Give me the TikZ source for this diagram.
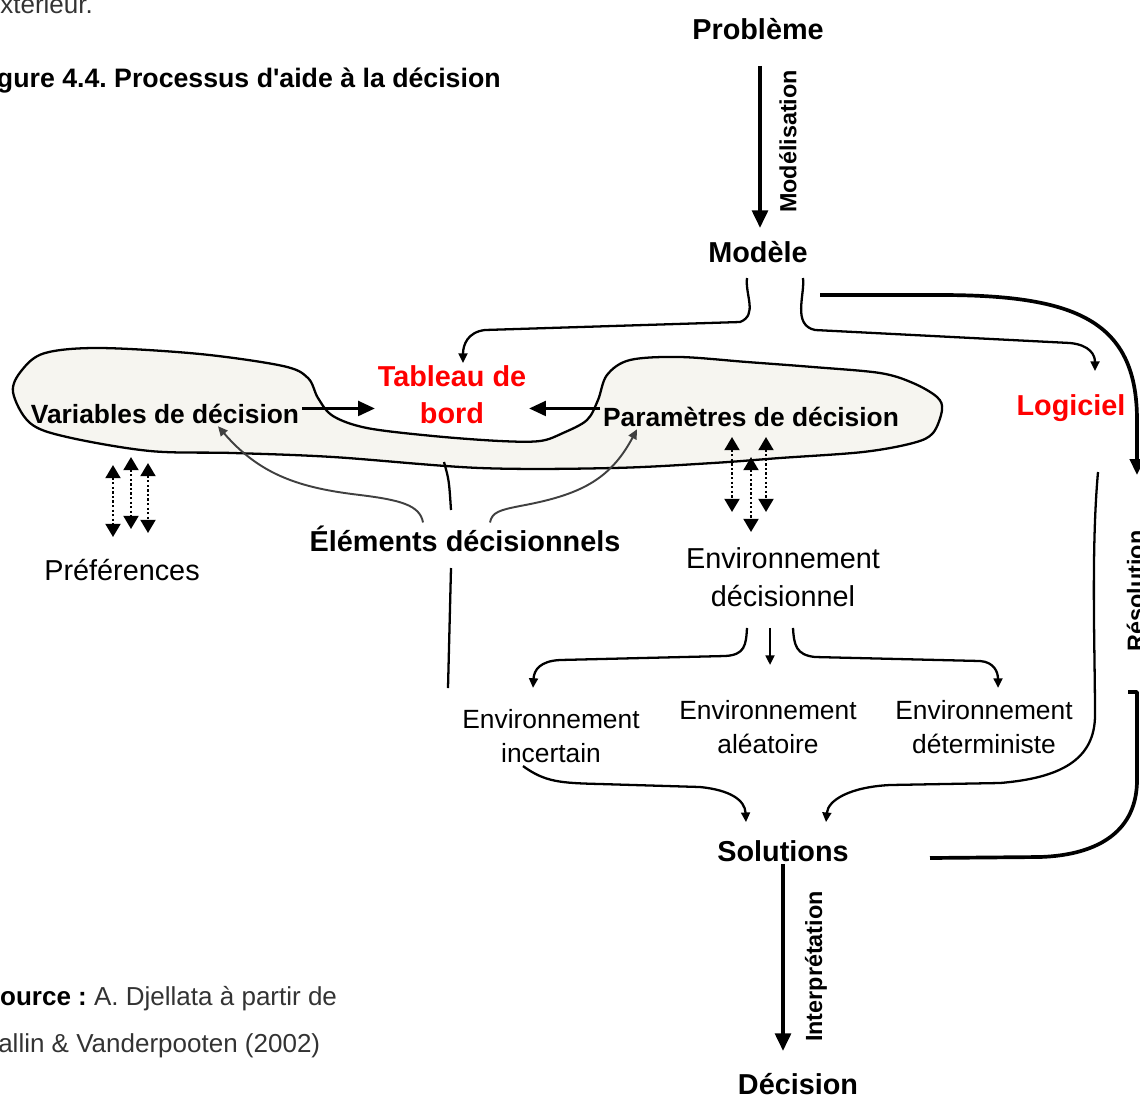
\documentclass[tikz,border=0pt]{standalone}
\usepackage{fontspec}
\setmainfont{Liberation Sans}
\usepackage{xcolor}
\usepackage{tikz}
\usetikzlibrary{arrows.meta}
\usetikzlibrary{positioning}

\definecolor{blobfill}{RGB}{246,245,240}
\definecolor{textgray}{RGB}{51,51,51}
\definecolor{arrowgray}{RGB}{64,64,64}

\frenchspacing

\begin{document}
\begin{tikzpicture}[
    >=stealth,
    line join=round,
    txt/.style={inner sep=1.5pt},
    big_bold/.style={txt, font=\fontsize{16.4}{21}\selectfont\bfseries},
    mid_bold/.style={txt, font=\fontsize{15}{18}\selectfont\bfseries},
    red_lbl/.style={big_bold, text=red, align=center},
    reg_big/.style={txt, font=\fontsize{16.4}{21.5}\selectfont},
    env_small/.style={txt, align=center, font=\fontsize{15}{19.8}\selectfont},
    rot_lbl/.style={txt, rotate=90, font=\fontsize{13.3}{16}\selectfont\bfseries},
    body_txt/.style={inner sep=0pt, font=\fontsize{14.8}{26.6}\selectfont},
    blob_style/.style={draw=black, fill=blobfill, line width=1.3pt},
    main_arrow/.style={line width=2pt, -{Triangle[length=10pt,width=9pt]}},
    res_arrow/.style={line width=2.1pt, -{Triangle[length=9pt,width=8pt]}},
    res_line/.style={line width=2.1pt},
    mid_arrow/.style={line width=1.3pt, -{Triangle[length=9.5pt,width=8.5pt]}},
    thin_arrow/.style={line width=1.3pt, -{Triangle[length=5.5pt,width=5pt]}},
    thin_line/.style={line width=1.3pt},
    gray_arrow/.style={arrowgray, line width=1.1pt, -{Triangle[length=5.5pt,width=5pt]}},
    dot_arrow/.style={line width=1.3pt, dash pattern=on 1.3pt off 1.3pt,
      {Triangle[length=7.5pt,width=8.5pt]}-{Triangle[length=7.5pt,width=8.5pt]}}
  ]

  \useasboundingbox (0,0) rectangle (22.8,-21.9);

  % Contour de la zone grise (variables, tableau de bord, parametres)
  \def\blobPath{
    plot[smooth cycle, tension=0.55] coordinates {
      (0.26,-7.84) (0.44,-7.4) (0.9,-7.06) (2.0,-6.96) (4.0,-7.08)
      (5.66,-7.32) (6.16,-7.56) (6.36,-7.96) (6.66,-8.32) (7.34,-8.56)
      (8.66,-8.72) (10.0,-8.82) (10.8,-8.82) (11.26,-8.66) (11.74,-8.4)
      (11.96,-8.0) (12.14,-7.5) (12.6,-7.2) (13.6,-7.14) (14.94,-7.24)
      (16.26,-7.34) (17.6,-7.46) (18.26,-7.66) (18.74,-7.94) (18.84,-8.2)
      (18.66,-8.66) (18.26,-8.86) (17.26,-9.04) (15.6,-9.16) (14.26,-9.26)
      (12.26,-9.36) (9.6,-9.36) (6.66,-9.14) (4.66,-9.06) (3.0,-9.02)
      (1.34,-8.74) (0.6,-8.46)
    }
  }

  % 1. Texte de la page autour de la figure
  \node[body_txt, text=textgray, anchor=base west] (ext) at (-0.29,-0.26) {extérieur.};
  \node[body_txt, font=\fontsize{15.2}{18}\selectfont\bfseries, anchor=base east] (caption)
    at (10.02,-1.74) {Figure 4.4. Processus d\textquotesingle aide à la décision};
  \node[body_txt, anchor=west, align=left] (source) at (-0.35,-20.44)
    {\textbf{Source :} \textcolor{textgray}{A. Djellata à partir de}\\
     \textcolor{textgray}{Vallin \& Vanderpooten (2002)}};

  % 2. Zone grise
  \draw[blob_style] \blobPath;

  % 3. Noeuds
  \node[big_bold, anchor=base] (probleme) at (15.16,-0.78) {Problème};
  \node[big_bold, anchor=base] (modele) at (15.16,-5.24) {Modèle};
  \node[rot_lbl] (modelisation) at (15.76,-2.83) {Modélisation};
  \node[red_lbl] (tdb) at (9.04,-7.9) {Tableau de\\bord};
  \node[big_bold, text=red, anchor=base] (logiciel) at (21.42,-8.3) {Logiciel};
  \node[mid_bold, anchor=base] (var) at (3.3,-8.46) {Variables de décision};
  \node[mid_bold, anchor=base] (param) at (15.02,-8.52) {Paramètres de décision};
  \node[big_bold, anchor=base] (elem) at (9.3,-11.02) {Éléments décisionnels};
  \node[reg_big, anchor=base] (pref) at (2.44,-11.6) {Préférences};
  \node[reg_big, align=center] (envD) at (15.66,-11.55) {Environnement\\décisionnel};
  \node[env_small] (envI) at (11.02,-14.72) {Environnement\\incertain};
  \node[env_small] (envA) at (15.36,-14.54) {Environnement\\aléatoire};
  \node[env_small] (envT) at (19.68,-14.54) {Environnement\\déterministe};
  \node[big_bold, anchor=base] (sol) at (15.66,-17.22) {Solutions};
  \node[big_bold, anchor=base] (dec) at (15.96,-21.88) {Décision};
  \node[rot_lbl] (interp) at (16.32,-19.33) {Interprétation};
  \node[rot_lbl] (resol) at (22.71,-11.82) {Résolution};

  % 4. Fleches principales
  \draw[main_arrow, shorten <=0.47cm, shorten >=0.2cm]
    ([xshift=0.04cm]probleme.south) -- ([xshift=0.04cm]modele.north);
  \draw[main_arrow, shorten >=0.38cm] (sol.south) -- (sol.south |- dec.north);

  % 5. Modele vers tableau de bord et logiciel
  \coordinate (mL) at (14.94,-5.56);
  \coordinate (mR) at (16.06,-5.56);
  \draw[thin_arrow] (mL) .. controls (14.9,-5.9) and (15.16,-6.3) .. (14.8,-6.44)
    -- (9.7,-6.6) .. controls (9.35,-6.64) and (9.26,-6.9) .. ([xshift=0.22cm]tdb.north);
  \draw[thin_arrow] (mR) .. controls (16.1,-5.9) and (15.84,-6.5) .. (16.3,-6.6)
    -- (21.4,-6.86) .. controls (21.8,-6.9) and (21.9,-7.1)
    .. ([xshift=0.48cm,yshift=0.4cm]logiciel.north);

  % 6. Boucle de resolution (trait epais)
  \coordinate (resS) at (16.4,-5.9);
  \coordinate (resT) at (22.74,-9.5);
  \coordinate (resB) at (22.56,-13.84);
  \coordinate (resE) at (18.6,-17.16);
  \draw[res_arrow] (resS) -- (18.8,-5.9) .. controls (21.5,-5.9) and (22.74,-6.4)
    .. (22.74,-8.4) -- (resT);
  \draw[res_line] (resB) -- (22.74,-13.84) -- (22.74,-15.6)
    .. controls (22.74,-16.6) and (22.0,-17.1) .. (20.8,-17.14) -- (resE);

  % 7. Fleches vers le tableau de bord
  \draw[mid_arrow] ([yshift=0.1cm]var.east) -- ([yshift=0.1cm]var.east -| tdb.west);
  \draw[mid_arrow] ([yshift=0.16cm]param.west) -- ([yshift=0.16cm]param.west -| tdb.east);

  % 8. Elements decisionnels
  \draw[gray_arrow] ([xshift=-0.84cm]elem.north) .. controls (8.4,-10.1) and (8.0,-10.0)
    .. (7.2,-9.9) .. controls (6.0,-9.76) and (5.2,-9.5) .. ([xshift=1.06cm]var.south);
  \draw[gray_arrow] ([xshift=0.5cm]elem.north) .. controls (9.84,-10.24) and (10.0,-10.2)
    .. (10.4,-10.12) .. controls (11.6,-9.9) and (12.2,-9.6) .. ([xshift=-2.28cm]param.south);
  \draw[thin_line] (8.88,-9.24) .. controls (8.98,-9.6) .. (9.02,-10.2);
  \draw[thin_line] (9.02,-11.36) -- (8.96,-13.76);

  % 9. Doubles fleches pointillees
  \foreach \x/\a/\b in {2.26/9.3/10.74, 2.62/9.14/10.58, 2.96/9.26/10.66,
                        14.64/8.74/10.24, 15.02/9.14/10.64, 15.32/8.74/10.24} {
    \draw[dot_arrow] (\x,-\a) -- (\x,-\b);
  }

  % 10. Types d'environnement
  \draw[thin_arrow] ([xshift=-0.72cm,yshift=-0.36cm]envD.south)
    .. controls (14.92,-12.9) and (14.9,-13.1) .. (14.5,-13.12) -- (11.2,-13.2)
    .. controls (10.8,-13.22) and (10.68,-13.4) .. ([xshift=-0.36cm,yshift=0.36cm]envI.north);
  \draw[thin_arrow] ([xshift=-0.26cm,yshift=-0.36cm]envD.south) -- ++(0,-0.74);
  \draw[thin_arrow] ([xshift=0.2cm,yshift=-0.36cm]envD.south)
    .. controls (15.88,-12.9) and (15.92,-13.1) .. (16.3,-13.14) -- (19.6,-13.22)
    .. controls (19.88,-13.24) and (19.96,-13.44) .. ([xshift=0.28cm,yshift=0.18cm]envT.north);

  % 11. Vers les solutions
  \draw[thin_arrow] ([xshift=-0.56cm]envI.south) .. controls (10.9,-15.64) and (11.2,-15.66)
    .. (12.0,-15.68) -- (14.0,-15.74) .. controls (14.6,-15.8) and (14.9,-16.0)
    .. ([xshift=-0.74cm,yshift=0.3cm]sol.north);
  \coordinate (logB) at (21.96,-9.44);
  \draw[thin_arrow] (logB) .. controls (21.82,-11) and (21.9,-13) .. (21.9,-14.3)
    .. controls (21.9,-15.2) and (21.2,-15.56) .. (20.0,-15.66) -- (17.8,-15.7)
    .. controls (17.0,-15.74) and (16.56,-16.0) .. ([xshift=0.86cm,yshift=0.3cm]sol.north);

\end{tikzpicture}
\end{document}
